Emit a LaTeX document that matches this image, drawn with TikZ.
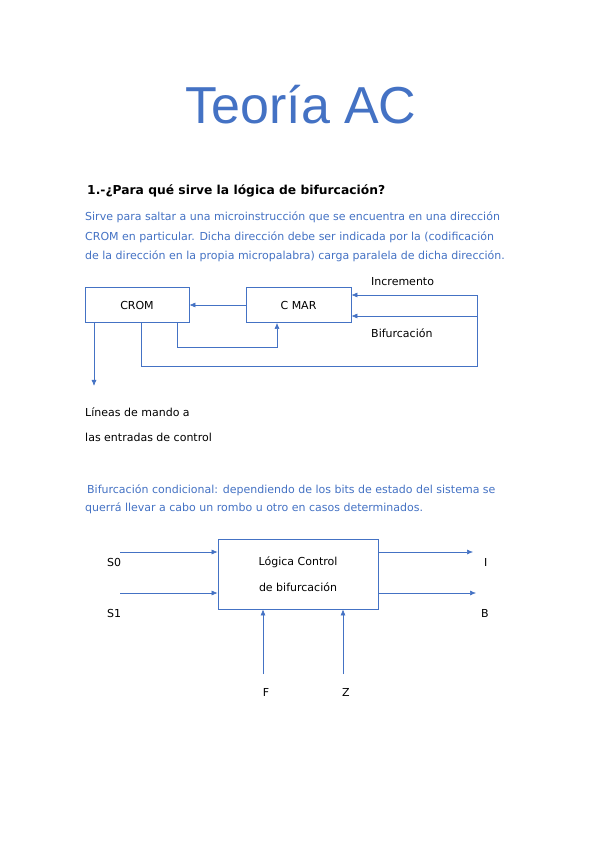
\documentclass[tikz,border=0pt]{standalone}
\usepackage{fontspec}
\setmainfont{DejaVu Sans}
\newfontfamily\titulofont{Liberation Sans}
\usetikzlibrary{arrows.meta,positioning}
\definecolor{azul}{RGB}{68,114,196}
\tikzset{>={Latex[length=6pt,width=5pt]}}
\tikzset{
  bloque/.style={draw=azul,line width=0.8pt,inner sep=0pt,
    font=\fontsize{11}{26}\selectfont,align=center},
  cable/.style={draw=azul,line width=0.6pt},
  etiqueta/.style={font=\fontsize{11}{13}\selectfont,inner sep=0pt,anchor=base west},
  parrafo/.style={etiqueta,text=azul},
}

\begin{document}
\begin{tikzpicture}[x=1pt,y=-1pt]
    \useasboundingbox[fill=white] (0,0) rectangle (599,848);
    % titulo y pregunta
    \node[font=\titulofont\fontsize{52}{60}\selectfont,text=azul,inner sep=0pt,anchor=base] (titulo) at (301,124) {Teoría AC};
    \node[font=\fontsize{12.3}{15}\selectfont\bfseries,inner sep=0pt,anchor=base west] (pregunta) at (87,194) {1.-¿Para qué sirve la lógica de bifurcación?};
    \node[parrafo] (p1) at (85,220) {Sirve para saltar a una microinstrucción que se encuentra en una dirección};
    \node[parrafo] (p2) at (85,240) {CROM en particular. Dicha dirección debe ser indicada por la  (codificación};
    \node[parrafo] (p3) at (85,259) {de la dirección en la propia micropalabra) carga paralela de dicha dirección.};
    % diagrama CROM / C MAR
    \node[bloque,minimum width=104pt,minimum height=35pt] (crom) at (137,305) {CROM};
    \node[bloque,minimum width=105pt,minimum height=35pt] (cmar) at (298.5,305) {C MAR};
    \node[etiqueta] (inc) at (371,285) {Incremento};
    \node[etiqueta] (bif) at (371,337) {Bifurcación};
    \coordinate (der) at (477,295);
    \coordinate (derb) at (477,316);
    \coordinate (abajo) at (477,366);
    \draw[cable,->] (cmar) -- (crom);
    \draw[cable,->] (der) -- (der -| cmar.east);
    \draw[cable,->] (derb) -- (derb -| cmar.east);
    \draw[cable] (der) -- (abajo) -| ([xshift=4pt]crom.south);
    \draw[cable,->] ([xshift=40pt]crom.south) -- ++(0,24) -| ([xshift=-21.5pt]cmar.south);
    \draw[cable,->] ([xshift=-43pt]crom.south) -- ++(0,63);
    \node[etiqueta] (l1) at (85,416) {Líneas de mando a};
    \node[etiqueta] (l2) at (85,441) {las entradas de control};
    \node[parrafo] (q1) at (87,493) {Bifurcación condicional: dependiendo de los bits de estado del sistema se};
    \node[parrafo] (q2) at (85,511) {querrá llevar a cabo un rombo u otro en casos determinados.};
    % logica de control
    \node[bloque,minimum width=160pt,minimum height=70pt] (logica) at (298,574) {Lógica Control\\de bifurcación};
    \coordinate (s0) at (120,552);
    \coordinate (s1) at (120,593);
    \coordinate (i) at (473,552);
    \coordinate (b) at (476,593);
    \coordinate (f) at (263,674);
    \coordinate (z) at (343,674);
    \draw[cable,->] (s0) -- (s0 -| logica.west);
    \draw[cable,->] (s1) -- (s1 -| logica.west);
    \draw[cable,->] (i -| logica.east) -- (i);
    \draw[cable,->] (b -| logica.east) -- (b);
    \draw[cable,->] (f) -- (f |- logica.south);
    \draw[cable,->] (z) -- (z |- logica.south);
    \node[etiqueta] (ls0) at (107,566) {S0};
    \node[etiqueta] (ls1) at (107,617) {S1};
    \node[etiqueta] (li) at (484,566) {I};
    \node[etiqueta] (lb) at (481,617) {B};
    \node[etiqueta,anchor=base] (lf) at (266,696) {F};
    \node[etiqueta,anchor=base] (lz) at (346,696) {Z};
\end{tikzpicture}
\end{document}
